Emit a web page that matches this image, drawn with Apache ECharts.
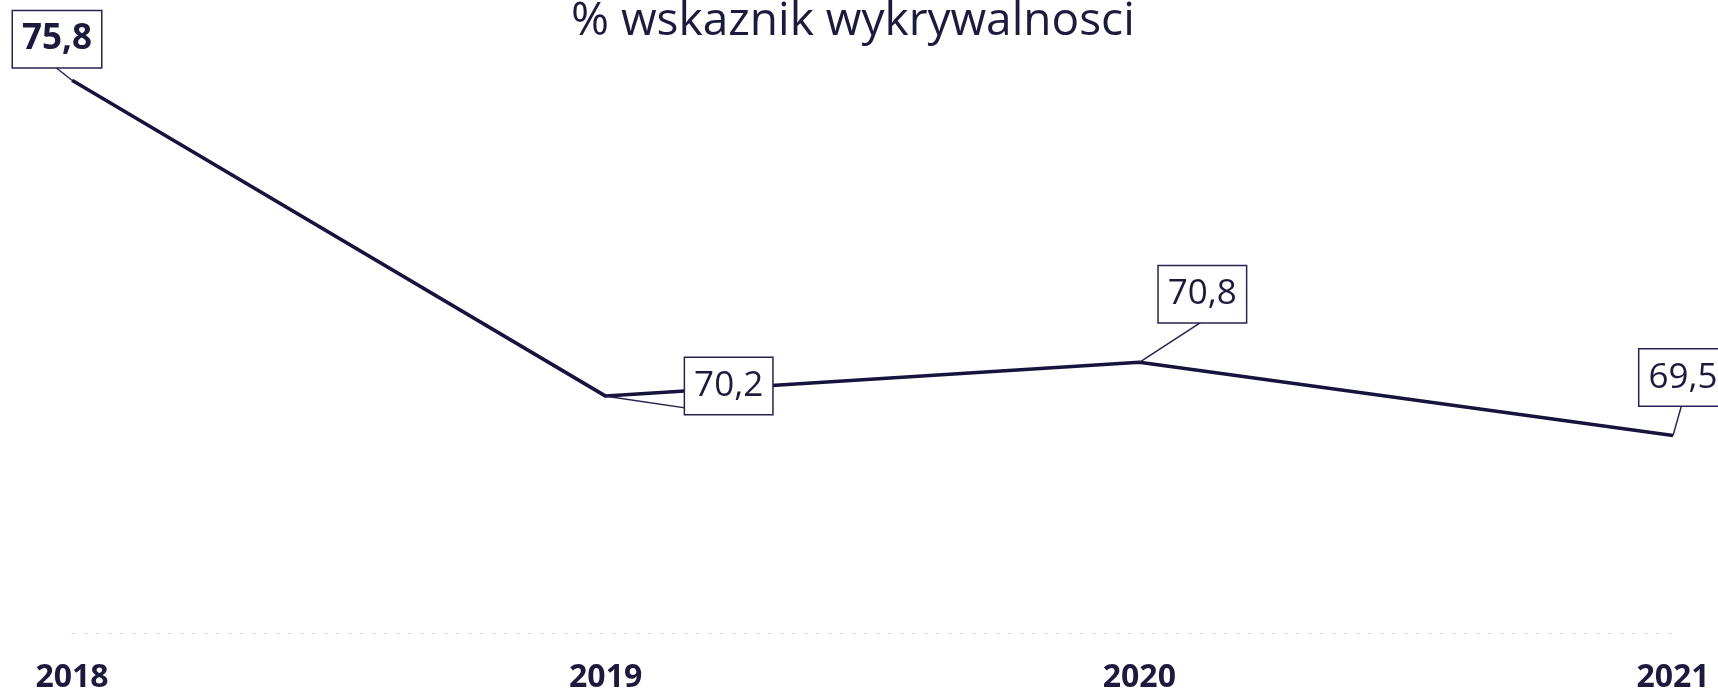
<!DOCTYPE html>
<html>
<head>
<meta charset="utf-8">
<title>% wskaznik wykrywalnosci</title>
<script src="https://cdn.jsdelivr.net/npm/echarts@6/dist/echarts.min.js"></script>
<style>
  html, body { margin: 0; padding: 0; background: #fff; }
  #chart { width: 1718px; height: 694px; }
</style>
</head>
<body>
<div id="chart"></div>
<script>
  // dane z wykresu
  var years = ['2018', '2019', '2020', '2021']
  var wskaznik = [75.8, 70.2, 70.8, 69.5]
  // przesunięcie dymków względem punktu [dx, dy]
  var labelOffsets = [[-15, -41], [123, -10], [63, -68], [10, -58]]

  var navy = '#16143c'
  var chart = echarts.init(document.getElementById('chart'))

  chart.setOption({
    animation: false,
    title: {
      text: '% wskaznik wykrywalnosci',
      left: 566,
      top: -6,
      textStyle: {
        fontFamily: 'Open Sans',
        fontWeight: 'normal',
        fontSize: 46,
        color: '#1c1b3d'
      }
    },
    grid: { // obszar wykresu
      left: 72,
      right: 45,
      top: 69,
      bottom: 61
    },
    xAxis: {
      type: 'category',
      data: years,
      boundaryGap: false,
      axisTick: { show: false },
      axisLine: {
        lineStyle: { color: '#d8d8de', width: 1, type: [3, 9] }
      },
      axisLabel: {
        margin: 29,
        fontFamily: 'Open Sans',
        fontWeight: 'bold',
        fontSize: 32,
        color: '#1c1b3d'
      }
    },
    yAxis: {
      type: 'value',
      min: 66,
      max: 76,
      show: false,
      splitLine: { show: false }
    },
    series: [{
      type: 'line',
      data: wskaznik.map(function (v, i) {
        return {
          value: v,
          label: {
            offset: labelOffsets[i],
            fontWeight: i === 0 ? 'bold' : 'normal'
          }
        }
      }),
      symbol: 'circle',
      symbolSize: 1,
      lineStyle: { color: navy, width: 3.5 },
      itemStyle: { color: navy },
      label: {
        show: true,
        position: 'inside',
        formatter: function (p) {
          return String(p.value.toFixed(1)).replace('.', ',')
        },
        fontFamily: 'Open Sans',
        fontSize: 35,
        lineHeight: 40,
        color: '#1c1b3d',
        backgroundColor: '#fff',
        borderColor: '#25234f',
        borderWidth: 1.5,
        padding: [8, 9]
      },
      labelLine: {
        show: true,
        lineStyle: { color: '#25234f', width: 1.5 }
      }
    }]
  })
</script>
</body>
</html>
